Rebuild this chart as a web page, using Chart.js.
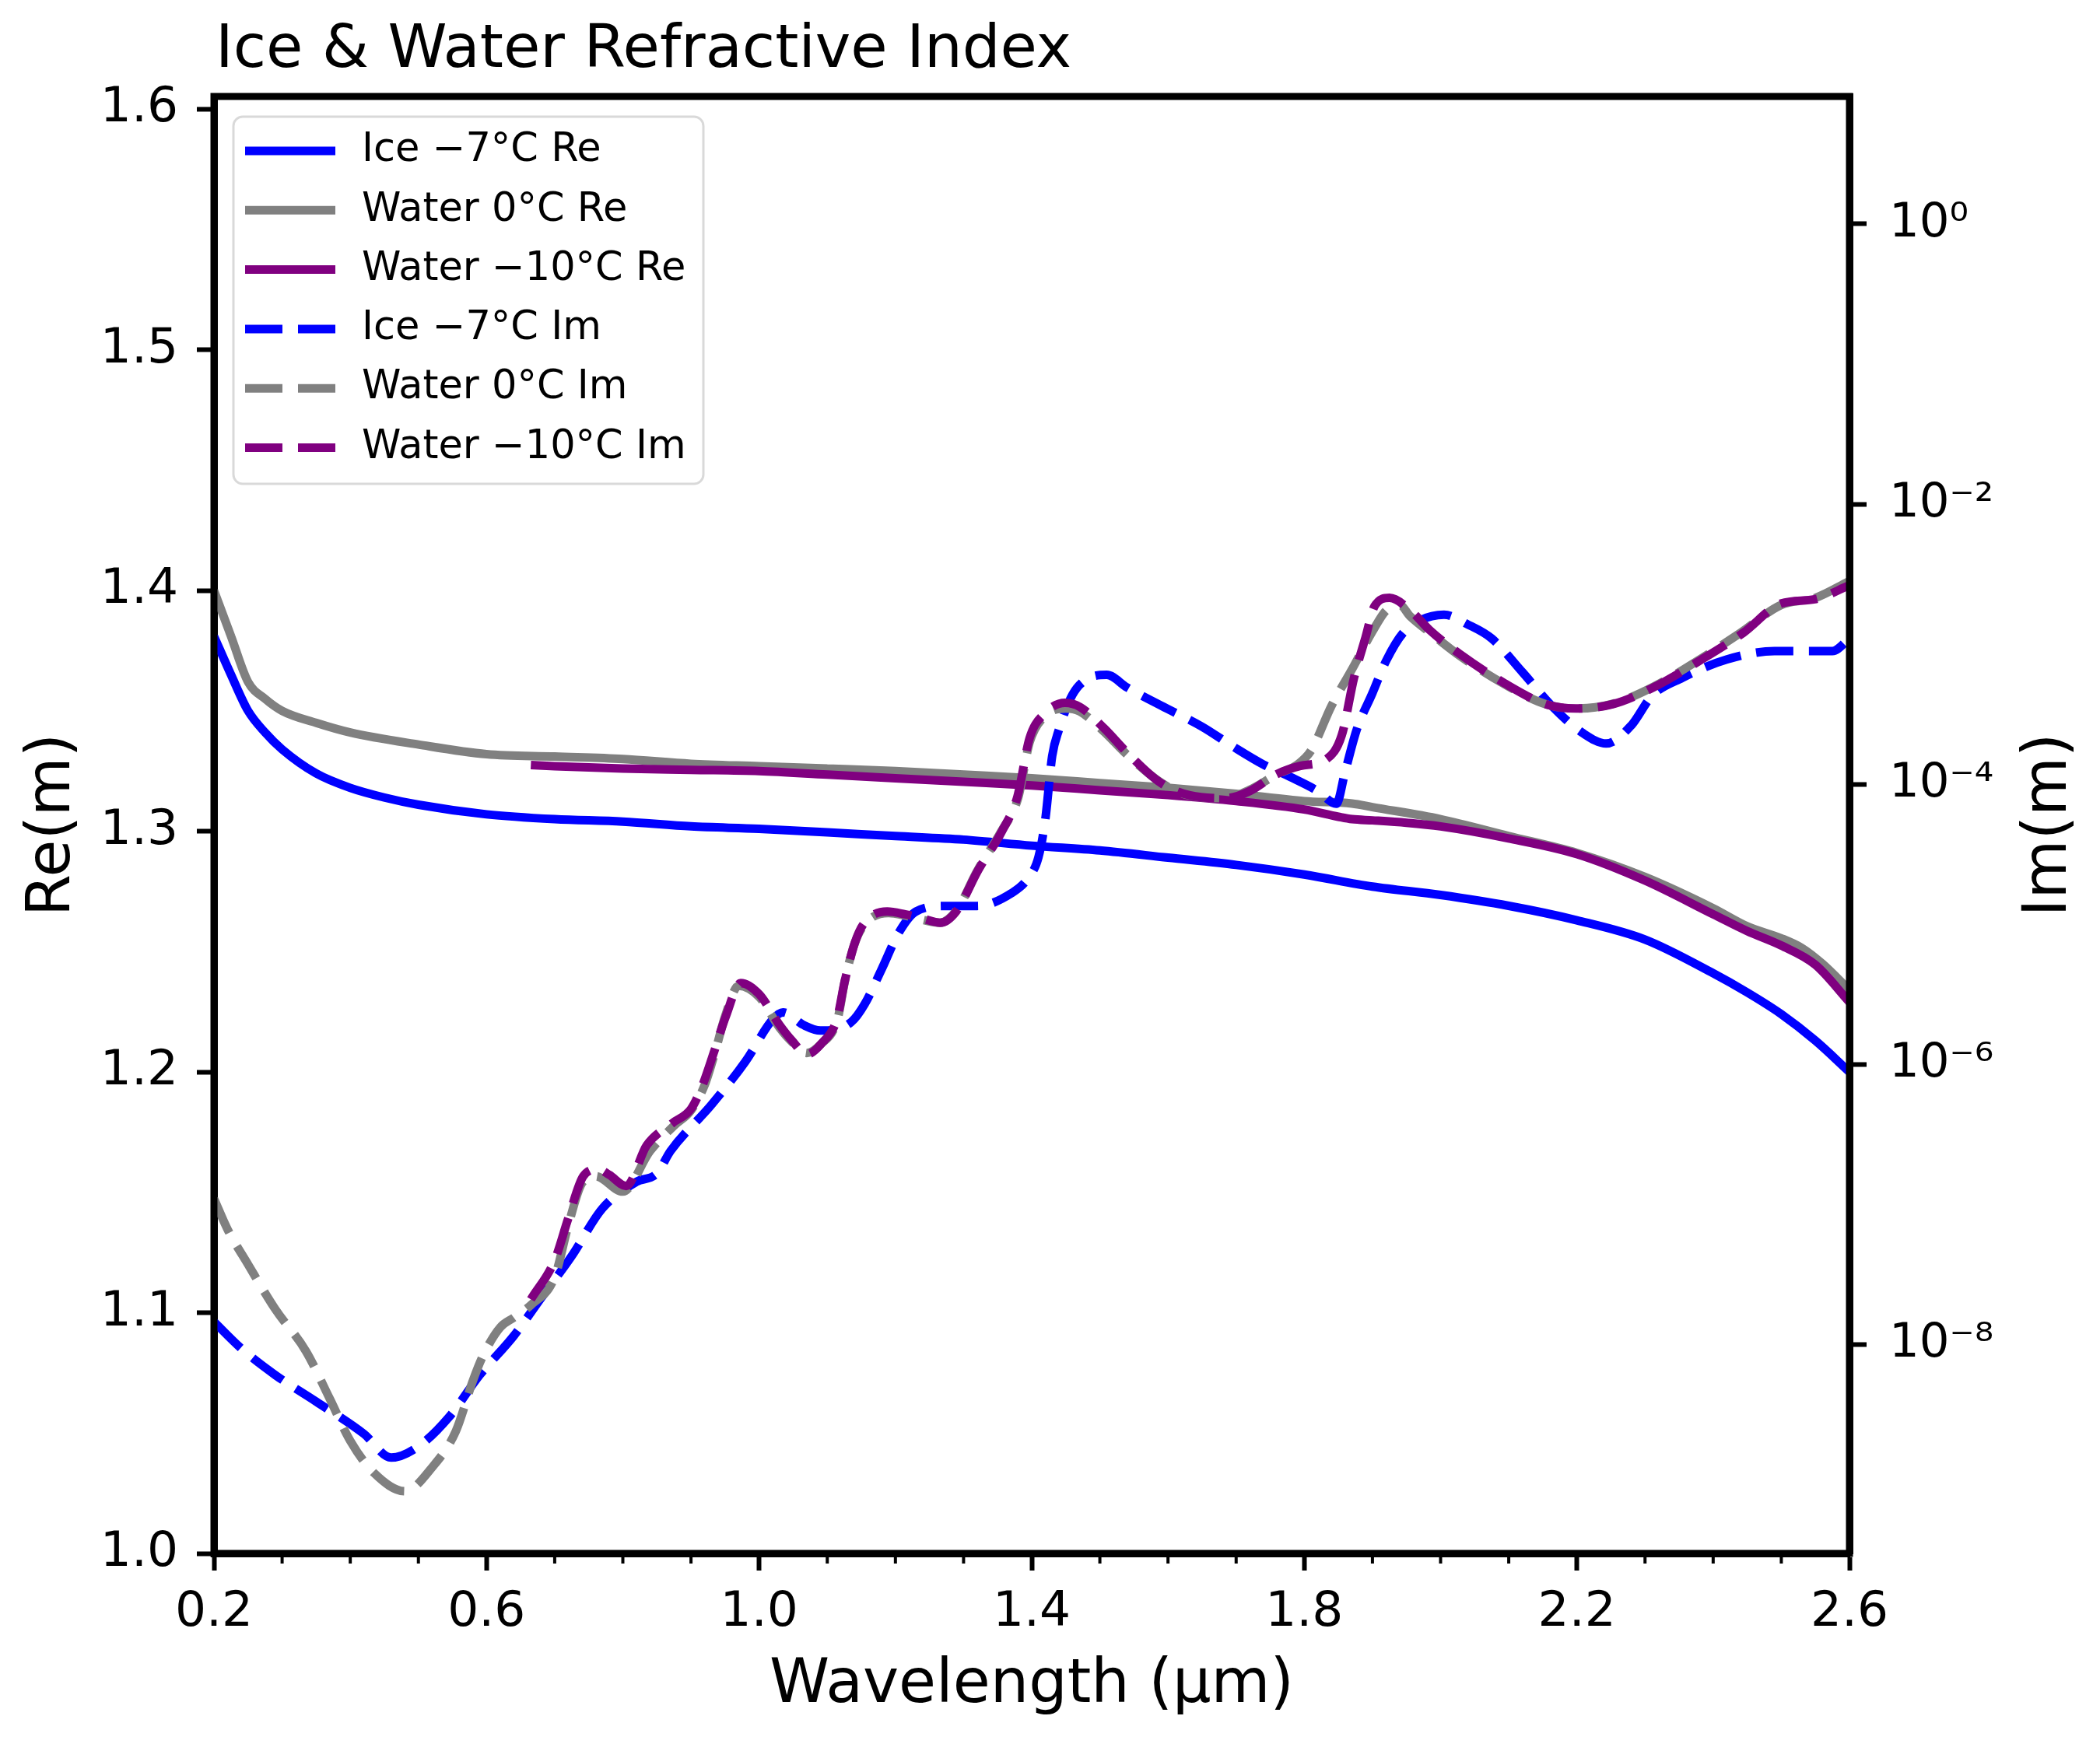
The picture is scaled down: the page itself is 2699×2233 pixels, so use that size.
<!DOCTYPE html>
<html>
<head>
<meta charset="utf-8">
<title>Ice & Water Refractive Index</title>
<script src="https://cdn.jsdelivr.net/npm/chart.js@4.4.1/dist/chart.umd.min.js"></script>
<style>
  html, body { margin: 0; padding: 0; background: #fff; }
  canvas { display: block; }
</style>
</head>
<body>
<canvas id="chart" width="2699" height="2233" style="width:2699px;height:2233px"></canvas>
<script>
// real part, [wavelength µm, Re(m)]
const iceRe = [
  [0.20, 1.381], [0.225, 1.365], [0.25, 1.350], [0.275, 1.341], [0.30, 1.334],
  [0.35, 1.324], [0.40, 1.318], [0.45, 1.314], [0.50, 1.311], [0.60, 1.307],
  [0.70, 1.305], [0.80, 1.304], [0.90, 1.302], [1.00, 1.301], [1.10, 1.2995],
  [1.20, 1.298], [1.30, 1.2965], [1.40, 1.294], [1.50, 1.292], [1.60, 1.289],
  [1.70, 1.286], [1.80, 1.282], [1.90, 1.277], [2.00, 1.2735], [2.10, 1.269],
  [2.20, 1.263], [2.30, 1.255], [2.40, 1.241], [2.45, 1.233], [2.50, 1.224],
  [2.55, 1.213], [2.60, 1.200]
];
const waterRe = [
  [0.20, 1.400], [0.225, 1.381], [0.25, 1.362], [0.275, 1.355], [0.30, 1.350],
  [0.35, 1.345], [0.40, 1.341], [0.50, 1.336], [0.60, 1.332], [0.70, 1.331],
  [0.80, 1.330], [0.90, 1.328], [1.00, 1.327], [1.10, 1.326], [1.20, 1.325],
  [1.30, 1.3235], [1.40, 1.322], [1.50, 1.320], [1.60, 1.318], [1.70, 1.3155],
  [1.80, 1.3125], [1.87, 1.3115], [1.90, 1.310], [2.00, 1.305], [2.10, 1.298],
  [2.20, 1.291], [2.30, 1.281], [2.40, 1.268], [2.45, 1.2605], [2.50, 1.2555],
  [2.53, 1.2515], [2.56, 1.245], [2.60, 1.234]
];
const coldWaterRe = [
  [0.665, 1.3275], [0.70, 1.327], [0.80, 1.326], [0.90, 1.3255], [1.00, 1.325],
  [1.10, 1.3235], [1.20, 1.322], [1.30, 1.3205], [1.40, 1.319], [1.50, 1.317],
  [1.60, 1.315], [1.70, 1.3125], [1.80, 1.309], [1.85, 1.306], [1.87, 1.305],
  [1.90, 1.3045], [1.95, 1.3035], [2.00, 1.302], [2.10, 1.297], [2.20, 1.2905],
  [2.30, 1.2795], [2.40, 1.2655], [2.45, 1.2585], [2.50, 1.2525], [2.55, 1.2445],
  [2.60, 1.229]
];

// imaginary part, [wavelength µm, log10 Im(m)]
const iceImExp = [
  [0.20, -7.84], [0.24, -8.03], [0.29, -8.22], [0.35, -8.41], [0.42, -8.64],
  [0.46, -8.81], [0.50, -8.73], [0.545, -8.52], [0.59, -8.22], [0.64, -7.94],
  [0.68, -7.67], [0.725, -7.37], [0.77, -7.03], [0.82, -6.84], [0.85, -6.78],
  [0.87, -6.62], [0.93, -6.29], [0.98, -5.98], [1.02, -5.68], [1.035, -5.63],
  [1.065, -5.72], [1.09, -5.76], [1.135, -5.70], [1.155, -5.57], [1.18, -5.32],
  [1.205, -5.06], [1.23, -4.91], [1.275, -4.87], [1.32, -4.87], [1.37, -4.78],
  [1.395, -4.67], [1.41, -4.52], [1.42, -4.25], [1.43, -3.80], [1.44, -3.61],
  [1.46, -3.36], [1.485, -3.24], [1.51, -3.22], [1.54, -3.31], [1.59, -3.44],
  [1.65, -3.59], [1.695, -3.73], [1.74, -3.86], [1.78, -3.95], [1.82, -4.05],
  [1.847, -4.14], [1.86, -3.91], [1.877, -3.61], [1.90, -3.35], [1.92, -3.12],
  [1.945, -2.92], [1.97, -2.83], [2.005, -2.79], [2.04, -2.86], [2.075, -2.96],
  [2.12, -3.20], [2.165, -3.45], [2.21, -3.64], [2.243, -3.71], [2.28, -3.58],
  [2.31, -3.37], [2.355, -3.24], [2.42, -3.11], [2.49, -3.05], [2.54, -3.05],
  [2.575, -3.05], [2.60, -2.96]
];
const waterImExp = [
  [0.20, -6.96], [0.22, -7.18], [0.25, -7.43], [0.29, -7.75], [0.335, -8.05],
  [0.37, -8.39], [0.40, -8.69], [0.435, -8.92], [0.48, -9.05], [0.52, -8.88],
  [0.555, -8.62], [0.58, -8.26], [0.595, -8.08], [0.62, -7.88], [0.64, -7.81],
  [0.665, -7.72], [0.70, -7.52], [0.72, -7.15], [0.74, -6.85], [0.76, -6.80],
  [0.80, -6.91], [0.84, -6.62], [0.875, -6.44], [0.90, -6.33], [0.92, -6.15],
  [0.935, -5.92], [0.95, -5.66], [0.97, -5.44], [1.00, -5.52], [1.03, -5.74],
  [1.048, -5.84], [1.07, -5.92], [1.09, -5.86], [1.115, -5.68], [1.126, -5.40],
  [1.14, -5.14], [1.155, -5.00], [1.19, -4.92], [1.215, -4.94], [1.24, -4.97],
  [1.265, -4.99], [1.29, -4.90], [1.32, -4.62], [1.355, -4.34], [1.38, -4.10],
  [1.397, -3.70], [1.418, -3.52], [1.45, -3.46], [1.47, -3.48], [1.505, -3.62],
  [1.54, -3.79], [1.59, -3.99], [1.63, -4.08], [1.685, -4.10], [1.72, -4.04],
  [1.76, -3.93], [1.79, -3.86], [1.81, -3.76], [1.84, -3.44], [1.87, -3.18],
  [1.90, -2.91], [1.92, -2.76], [1.94, -2.72], [1.955, -2.80], [1.985, -2.92],
  [2.03, -3.09], [2.095, -3.29], [2.155, -3.43], [2.20, -3.46], [2.25, -3.43],
  [2.31, -3.31], [2.38, -3.11], [2.44, -2.92], [2.50, -2.72], [2.55, -2.67],
  [2.60, -2.55]
];
const coldWaterImExp = [
  [0.665, -7.68], [0.70, -7.40], [0.72, -7.10], [0.742, -6.80], [0.764, -6.75],
  [0.78, -6.79], [0.805, -6.87], [0.835, -6.58], [0.873, -6.42], [0.90, -6.32],
  [0.917, -6.15], [0.934, -5.91], [0.951, -5.66], [0.973, -5.42], [1.00, -5.50],
  [1.03, -5.72], [1.048, -5.83], [1.07, -5.93], [1.092, -5.85], [1.114, -5.68],
  [1.126, -5.40], [1.14, -5.14], [1.153, -5.00], [1.188, -4.91], [1.214, -4.93],
  [1.24, -4.96], [1.266, -4.99], [1.289, -4.91], [1.322, -4.61], [1.357, -4.33],
  [1.379, -4.09], [1.397, -3.67], [1.418, -3.50], [1.449, -3.42], [1.471, -3.45],
  [1.506, -3.60], [1.541, -3.78], [1.589, -3.99], [1.632, -4.08], [1.685, -4.10],
  [1.72, -4.05], [1.759, -3.93], [1.794, -3.87], [1.833, -3.82], [1.855, -3.65],
  [1.873, -3.24], [1.89, -2.95], [1.903, -2.73], [1.925, -2.67], [1.958, -2.77],
  [1.984, -2.90], [2.028, -3.07], [2.094, -3.28], [2.155, -3.43], [2.199, -3.46],
  [2.252, -3.43], [2.312, -3.31], [2.383, -3.11], [2.444, -2.92], [2.50, -2.71],
  [2.549, -2.68], [2.60, -2.58]
];

const seriesLabels = [
  'Ice \u22127°C Re', 'Water 0°C Re', 'Water \u221210°C Re',
  'Ice \u22127°C Im', 'Water 0°C Im', 'Water \u221210°C Im'
];
const reTicks = [1.0, 1.1, 1.2, 1.3, 1.4, 1.5, 1.6];
const wavelengthMajor = [0.2, 0.6, 1.0, 1.4, 1.8, 2.2, 2.6];
const wavelengthMinor = [0.3, 0.4, 0.5, 0.7, 0.8, 0.9, 1.1, 1.2, 1.3, 1.5, 1.6, 1.7, 1.9, 2.0, 2.1, 2.3, 2.4, 2.5];
const imTickExp = [-8, -6, -4, -2, 0];

const chartTitle = 'Ice & Water Refractive Index';
const xTitle = 'Wavelength (µm)';
const reTitle = 'Re(m)';
const imTitle = 'Im(m)';

const FONT = '"DejaVu Sans", "Liberation Sans", sans-serif';
const lineW = 11;
const dash = [48, 20];

const sup = { '-': '\u207B', '0': '\u2070', '2': '\u00B2', '4': '\u2074', '6': '\u2076', '8': '\u2078' };
const toSup = n => String(n).split('').map(c => sup[c] || c).join('');
const isMajor = v => wavelengthMajor.some(m => Math.abs(m - v) < 1e-6);

const toPoints = pairs => pairs.map(([x, y]) => ({ x, y }));
const toImPoints = pairs => pairs.map(([x, e]) => ({ x, y: Math.pow(10, e) }));

function series(label, data, color, axis, dashed, order) {
  return {
    label,
    data,
    borderColor: color,
    backgroundColor: color,
    borderWidth: lineW,
    borderDash: dashed ? dash : [],
    borderCapStyle: 'butt',
    borderJoinStyle: 'round',
    pointRadius: 0,
    cubicInterpolationMode: 'monotone',
    fill: false,
    clip: 0,
    yAxisID: axis,
    order
  };
}

// in-axes legend, like matplotlib's upper left
const legendBox = {
  id: 'legendBox',
  afterDatasetsDraw(chart) {
    const { ctx, chartArea } = chart;
    const x0 = chartArea.left + 25, y0 = chartArea.top + 26;
    ctx.save();
    ctx.beginPath();
    ctx.roundRect(x0, y0, 604, 472, 12);
    ctx.fillStyle = 'rgba(255,255,255,0.85)';
    ctx.fill();
    ctx.lineWidth = 3;
    ctx.strokeStyle = '#d9d9d9';
    ctx.stroke();
    chart.data.datasets.forEach((ds, i) => {
      const y = y0 + 44 + i * 76.3;
      ctx.beginPath();
      ctx.setLineDash(ds.borderDash);
      ctx.lineWidth = ds.borderWidth;
      ctx.strokeStyle = ds.borderColor;
      ctx.lineCap = 'butt';
      ctx.moveTo(x0 + 15, y);
      ctx.lineTo(x0 + 131, y);
      ctx.stroke();
      ctx.setLineDash([]);
      ctx.fillStyle = '#000';
      ctx.font = '51px ' + FONT;
      ctx.textBaseline = 'middle';
      ctx.textAlign = 'left';
      ctx.fillText(ds.label, x0 + 165, y);
    });
    ctx.restore();
  }
};

// axes frame, minor x ticks, title and right-hand label
const frame = {
  id: 'frame',
  afterDatasetsDraw(chart) {
    const { ctx, chartArea: a } = chart;
    ctx.save();
    ctx.lineWidth = 9;
    ctx.strokeStyle = '#000';
    ctx.strokeRect(a.left, a.top, a.right - a.left, a.bottom - a.top);
    ctx.restore();
  },
  afterDraw(chart) {
    const { ctx, chartArea: a, scales } = chart;
    ctx.save();
    ctx.strokeStyle = '#000';
    ctx.lineWidth = 4;
    wavelengthMinor.forEach(v => {
      const px = scales.x.getPixelForValue(v);
      ctx.beginPath();
      ctx.moveTo(px, a.bottom);
      ctx.lineTo(px, a.bottom + 13);
      ctx.stroke();
    });

    ctx.fillStyle = '#000';
    ctx.font = '77px ' + FONT;
    ctx.textAlign = 'left';
    ctx.textBaseline = 'alphabetic';
    ctx.fillText(chartTitle, a.left + 2, a.top - 38);

    ctx.translate(scales.y2.right - 64, (a.top + a.bottom) / 2);
    ctx.rotate(-Math.PI / 2);
    ctx.font = '78px ' + FONT;
    ctx.textAlign = 'center';
    ctx.textBaseline = 'middle';
    ctx.fillText(imTitle, 0, 0);
    ctx.restore();
  }
};

const tickFont = { family: FONT, size: 63 };
const titleFont = { family: FONT, size: 78 };

new Chart(document.getElementById('chart'), {
  type: 'line',
  data: {
    datasets: [
      series(seriesLabels[0], toPoints(iceRe), '#0000ff', 'y', false, 5),
      series(seriesLabels[1], toPoints(waterRe), '#808080', 'y', false, 4),
      series(seriesLabels[2], toPoints(coldWaterRe), '#800080', 'y', false, 3),
      series(seriesLabels[3], toImPoints(iceImExp), '#0000ff', 'y2', true, 2),
      series(seriesLabels[4], toImPoints(waterImExp), '#808080', 'y2', true, 1),
      series(seriesLabels[5], toImPoints(coldWaterImExp), '#800080', 'y2', true, 0)
    ]
  },
  options: {
    responsive: false,
    devicePixelRatio: 1,
    animation: false,
    layout: { padding: { top: 124, left: 0, right: 0, bottom: 0 } },
    plugins: {
      legend: { display: false },
      title: { display: false },
      tooltip: { enabled: false }
    },
    scales: {
      x: {
        type: 'linear',
        min: 0.2,
        max: 2.6,
        afterFit: s => { s.height = 236; },
        afterBuildTicks: s => {
          s.ticks = [...wavelengthMajor, ...wavelengthMinor].sort((p, q) => p - q).map(v => ({ value: v }));
        },
        ticks: {
          autoSkip: false,
          maxRotation: 0,
          padding: 17,
          color: '#000',
          font: tickFont,
          callback: v => (isMajor(v) ? v.toFixed(1) : '')
        },
        grid: {
          drawOnChartArea: false,
          tickLength: 22,
          tickWidth: 6,
          tickColor: c => (c.tick && isMajor(c.tick.value) ? '#000' : 'rgba(0,0,0,0)')
        },
        border: { display: true, color: '#000', width: 9 },
        title: { display: true, text: xTitle, color: '#000', font: titleFont, padding: { top: 0, bottom: 18 } }
      },
      y: {
        type: 'linear',
        position: 'left',
        min: 1.0,
        max: 1.6052,
        afterFit: s => { s.width = 275; },
        afterBuildTicks: s => { s.ticks = reTicks.map(v => ({ value: v })); },
        ticks: { padding: 24, color: '#000', font: tickFont, callback: v => v.toFixed(1) },
        grid: { drawOnChartArea: false, tickLength: 22, tickWidth: 6, tickColor: '#000' },
        border: { display: true, color: '#000', width: 9 },
        title: { display: true, text: reTitle, color: '#000', font: titleFont, padding: { top: 22, bottom: 0 } }
      },
      y2: {
        type: 'logarithmic',
        position: 'right',
        min: Math.pow(10, -9.494),
        max: Math.pow(10, 0.911),
        afterFit: s => { s.width = 322; },
        afterBuildTicks: s => { s.ticks = imTickExp.map(e => ({ value: Math.pow(10, e) })); },
        ticks: {
          padding: 29,
          color: '#000',
          font: { family: FONT, size: 61 },
          callback: v => '10' + toSup(Math.round(Math.log10(v)))
        },
        grid: { drawOnChartArea: false, tickLength: 22, tickWidth: 6, tickColor: '#000' },
        border: { display: true, color: '#000', width: 9 },
        title: { display: false }
      }
    }
  },
  plugins: [legendBox, frame]
});
</script>
</body>
</html>
